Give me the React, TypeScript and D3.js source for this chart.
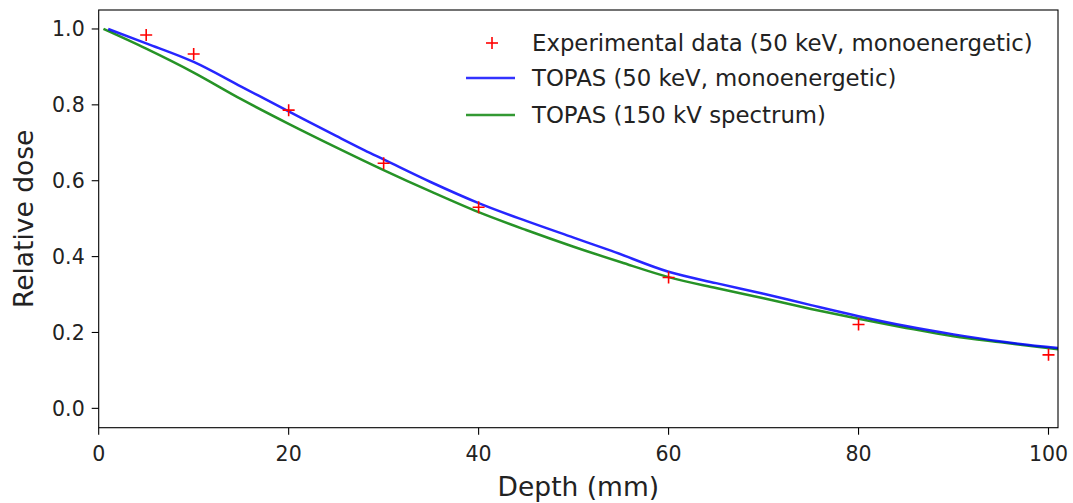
import React from "react";
import * as d3 from "d3";

const W = 1073;
const H = 503;

const expDepth = [5, 10, 20, 30, 40, 60, 80, 100];
const expDose = [0.984, 0.934, 0.786, 0.646, 0.53, 0.345, 0.221, 0.141];

const monoDepth = [1, 5, 10, 15, 20, 25, 28, 30, 35, 40, 45, 50, 54, 60, 65, 70, 75, 80, 85, 90, 95, 101];
const monoDose = [1.0, 0.962, 0.913, 0.848, 0.783, 0.718, 0.68, 0.656, 0.596, 0.541, 0.494, 0.45, 0.415, 0.36, 0.33, 0.302, 0.272, 0.243, 0.217, 0.195, 0.176, 0.159];

const specDepth = [0.5, 5, 10, 15, 20, 25, 30, 35, 40, 45, 50, 55, 60, 65, 70, 75, 80, 85, 90, 95, 101];
const specDose = [1.0, 0.948, 0.885, 0.815, 0.75, 0.688, 0.628, 0.571, 0.517, 0.47, 0.426, 0.385, 0.346, 0.317, 0.29, 0.262, 0.236, 0.212, 0.19, 0.174, 0.156];

const xTicks = [0, 20, 40, 60, 80, 100];
const yTicks = [0, 0.2, 0.4, 0.6, 0.8, 1.0];

const legendLabels = [
  "Experimental data (50 keV, monoenergetic)",
  "TOPAS (50 keV, monoenergetic)",
  "TOPAS (150 kV spectrum)",
];

const FONT = "DejaVu Sans";

export default function App() {
  const left = 98.7;
  const right = 1058;
  const top = 10;
  const bottom = 427.7;
  const x = d3.scaleLinear().domain([0, 101]).range([left, right]);
  const y = d3.scaleLinear().domain([-0.051, 1.05]).range([bottom, top]);

  const line = d3
    .line<[number, number]>()
    .x((d) => x(d[0]))
    .y((d) => y(d[1]))
    .curve(d3.curveMonotoneX);

  const monoPts = monoDepth.map((d, i) => [d, monoDose[i]] as [number, number]);
  const specPts = specDepth.map((d, i) => [d, specDose[i]] as [number, number]);

  const plus = (cx: number, cy: number, s: number, key: any) => (
    <g key={key} stroke="#ff0000" strokeWidth={1.6}>
      <line x1={cx - s} x2={cx + s} y1={cy} y2={cy} />
      <line x1={cx} x2={cx} y1={cy - s} y2={cy + s} />
    </g>
  );

  const legRows = [43, 78, 115];

  return (
    <svg
      width={W}
      height={H}
      style={{ position: "absolute", left: 0, top: 0, background: "#fff" }}
      fontFamily={FONT}
    >
      <rect x={0} y={0} width={W} height={H} fill="#fff" />
      <defs>
        <clipPath id="plotclip">
          <rect x={left} y={top} width={right - left} height={bottom - top} />
        </clipPath>
      </defs>

      <g clipPath="url(#plotclip)">
        <path d={line(specPts) || ""} fill="none" stroke="#008000" strokeOpacity={0.85} strokeWidth={2.5} strokeLinejoin="round" />
        <path d={line(monoPts) || ""} fill="none" stroke="#0000ff" strokeOpacity={0.85} strokeWidth={2.5} strokeLinejoin="round" />
        {expDepth.map((d, i) => plus(x(d), y(expDose[i]), 6, i))}
      </g>

      <rect x={left} y={top} width={right - left} height={bottom - top} fill="none" stroke="#000" strokeWidth={1.1} />

      {xTicks.map((t) => (
        <g key={"x" + t}>
          <line x1={x(t)} x2={x(t)} y1={bottom} y2={bottom + 7} stroke="#000" strokeWidth={1.1} />
          <text x={x(t)} y={bottom + 33} textAnchor="middle" fontSize={20.5} fill="#222">
            {String(t)}
          </text>
        </g>
      ))}

      {yTicks.map((t) => (
        <g key={"y" + t}>
          <line x1={left - 7} x2={left} y1={y(t)} y2={y(t)} stroke="#000" strokeWidth={1.1} />
          <text x={left - 14} y={y(t)} dy="0.36em" textAnchor="end" fontSize={20.5} fill="#222">
            {t.toFixed(1)}
          </text>
        </g>
      ))}

      <text x={(left + right) / 2} y={496} textAnchor="middle" fontSize={26.5} fill="#222">
        Depth (mm)
      </text>
      <text
        transform={`translate(33, ${(top + bottom) / 2}) rotate(-90)`}
        textAnchor="middle"
        fontSize={26.5}
        fill="#222"
      >
        Relative dose
      </text>

      {plus(492, legRows[0], 6, "lg0")}
      <line x1={466} x2={515} y1={legRows[1]} y2={legRows[1]} stroke="#0000ff" strokeOpacity={0.8} strokeWidth={2.6} />
      <line x1={466} x2={515} y1={legRows[2]} y2={legRows[2]} stroke="#008000" strokeOpacity={0.8} strokeWidth={2.6} />
      {legendLabels.map((l, i) => (
        <text key={l} x={532} y={legRows[i]} dy="0.36em" fontSize={22.8} fill="#222">
          {l}
        </text>
      ))}
    </svg>
  );
}
